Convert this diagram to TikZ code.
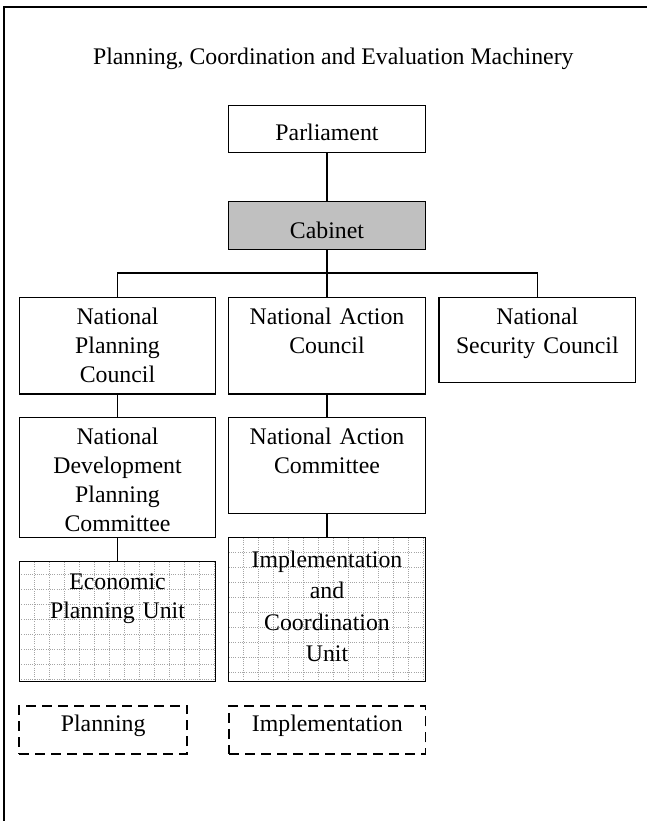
\documentclass[tikz,border=0pt]{standalone}
\usepackage{fontspec}
\setmainfont{Liberation Serif}
\usepackage{tikz}
\usetikzlibrary{positioning}
\definecolor{CabGray}{RGB}{192,192,192}
\definecolor{GridGray}{RGB}{165,165,165}
\newcommand{\orgfont}{\fontsize{23.8}{29}\selectfont}
\tikzset{
  orgbox/.style={draw=black,line width=1.4pt,inner sep=0pt,anchor=north,align=center,text width=196.5pt,text height=26.6pt,font=\orgfont},
  gridbox/.style={orgbox,path picture={\draw[GridGray,line width=0.7pt,dash pattern=on 1pt off 1.2pt,step=15pt] (path picture bounding box.south west) grid (path picture bounding box.north east);}},
  dashbox/.style={orgbox,line width=1.8pt,dash pattern=on 10pt off 6pt},
  link/.style={draw=black,line width=1.3pt},
}
\begin{document}
\begin{tikzpicture}[x=1pt,y=-1pt]
        \useasboundingbox (0,0) rectangle (646,821);
        \draw[line width=1.8pt] (4,840) |- (660,7);
        \node[font=\orgfont,anchor=base] (title) at (333.3,65) {Planning, Coordination and Evaluation Machinery};
        % top of the chain
        \node[orgbox,text height=35.3pt,text depth=11.7pt] (parl) at (327,105) {Parliament};
        \node[orgbox,fill=CabGray,text height=36.3pt,text depth=11.7pt] (cab) at (327,201) {Cabinet};
        % councils
        \node[orgbox,text depth=70pt] (npc) at (117.5,296.7) {National\\Planning\\Council};
        \node[orgbox,text depth=70pt] (nac) at (327,296.7) {National Action\\Council};
        \node[orgbox,text depth=58.4pt] (nsc) at (537.3,296.7) {National\\Security Council};
        \node[orgbox,text depth=93.4pt] (ndpc) at (117.5,416.7) {National\\Development\\Planning\\Committee};
        \node[orgbox,text depth=69.4pt] (nacm) at (327,416.7) {National Action\\Committee};
        % units
        \node[gridbox,text height=27.6pt,text depth=92.7pt] (epu) at (117.5,560.7) {Economic\\Planning Unit};
        \node[gridbox,text height=30pt,text depth=114.3pt,font=\fontsize{23.8}{31.5}\selectfont] (icu) at (327,536.7) {Implementation\\and\\Coordination\\Unit};
        \node[dashbox,text width=168.3pt,text height=25.7pt,text depth=22.3pt] (plan) at (103.2,705) {Planning};
        \node[dashbox,text height=25.7pt,text depth=22.3pt] (impl) at (327.3,705) {Implementation};
        \coordinate (bus) at (327,273);
        \draw[link] (parl) -- (cab);
        \draw[link] (cab) -- (nac);
        \draw[link] (npc.north) -- (npc.north |- bus) -- (nsc.north |- bus) -- (nsc.north);
        \draw[link] (npc) -- (ndpc); \draw[link] (ndpc) -- (epu);
        \draw[link] (nac) -- (nacm); \draw[link] (nacm) -- (icu);
      \end{tikzpicture}
\end{document}
